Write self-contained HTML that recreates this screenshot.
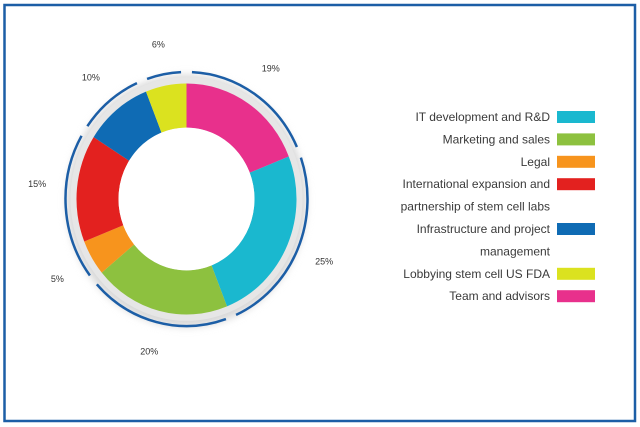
<!DOCTYPE html>
<html><head><meta charset="utf-8"><style>
html,body{margin:0;padding:0;background:#fff;}
svg{display:block;font-family:"Liberation Sans",sans-serif;}
</style></head><body>
<svg id="chart" width="640" height="427" viewBox="0 0 640 427" xmlns="http://www.w3.org/2000/svg">
<defs>
<filter id="sh" x="-30%" y="-30%" width="160%" height="160%"><feGaussianBlur stdDeviation="4"/></filter>
</defs>
<rect x="4.5" y="5" width="630.5" height="416" fill="#fff" stroke="#1c5ea6" stroke-width="2.5"/>
<g id="donut"></g>
<g id="legend"></g>
</svg>
<script>
const categories = ["Team and advisors","IT development and R&D","Marketing and sales","Legal","International expansion and partnership of stem cell labs","Infrastructure and project management","Lobbying stem cell US FDA"];
const values = [19,25,20,5,15,10,6];
const valueLabels = ["19%","25%","20%","5%","15%","10%","6%"];
const colors = ["#e8308c","#1ab8cf","#8dc13f","#f7941d","#e3211f","#0f6bb4","#dbe21f"];
const legendLines = [["IT development and R&D"],["Marketing and sales"],["Legal"],["International expansion and","partnership of stem cell labs"],["Infrastructure and project","management"],["Lobbying stem cell US FDA"],["Team and advisors"]];
const legendColors = ["#1ab8cf","#8dc13f","#f7941d","#e3211f","#0f6bb4","#dbe21f","#e8308c"];

const NS="http://www.w3.org/2000/svg";
const cx=186.5, cy=199, sy=1.05;
const R=110, r=68, arcR=121, labR=150;
const total=values.reduce((a,b)=>a+b,0);
function ang(v){return v/total*2*Math.PI;}
function pt(a,rad){return [cx+rad*Math.sin(a), cy-rad*sy*Math.cos(a)];}
function mk(tag,attrs,parent){const e=document.createElementNS(NS,tag);for(const k in attrs)e.setAttribute(k,attrs[k]);parent.appendChild(e);return e;}
const g=document.getElementById('donut');
// shadow ring
const shadow=mk('ellipse',{cx:cx,cy:cy+2,rx:R+10,ry:(R+10)*sy,fill:'#d8d8d8',filter:'url(#sh)'},g);


const ring=mk('ellipse',{cx:cx,cy:cy,rx:R+6,ry:(R+6)*sy,fill:'#e6e6e6'},g);


let acc=0;
const bounds=[];
values.forEach((v,i)=>{
  const a0=ang(acc), a1=ang(acc+v); acc+=v; bounds.push(a0);
  const p0=pt(a0,R),p1=pt(a1,R),q1=pt(a1,r),q0=pt(a0,r);
  const lg=(a1-a0)>Math.PI?1:0;
  const d=`M${p0[0]},${p0[1]} A${R},${R*sy} 0 ${lg} 1 ${p1[0]},${p1[1]} L${q1[0]},${q1[1]} A${r},${r*sy} 0 ${lg} 0 ${q0[0]},${q0[1]} Z`;
  const s=mk('path',{d:d,fill:colors[i]},g);
  
  
  const am=(a0+a1)/2, lp=pt(am,labR);
  const t=mk('text',{x:lp[0],y:lp[1]+3,'text-anchor':'middle','font-size':'9','fill':'#333'},g);
  t.textContent=valueLabels[i];
  
  
});
// inner hole with soft shadow
const hole=mk('ellipse',{cx:cx,cy:cy,rx:r,ry:r*sy,fill:'#fff'},g);


// dashed blue arcs with gaps at boundaries (except the Legal/International one)
const gapB=bounds.filter((b,i)=>i!==4);
const gap=0.045;
for(let i=0;i<gapB.length;i++){
  let a0=gapB[i]+gap, a1=(i+1<gapB.length?gapB[i+1]:2*Math.PI)-gap;
  const p0=pt(a0,arcR),p1=pt(a1,arcR);
  const lg=(a1-a0)>Math.PI?1:0;
  const a=mk('path',{d:`M${p0[0]},${p0[1]} A${arcR},${arcR*sy} 0 ${lg} 1 ${p1[0]},${p1[1]}`,fill:'none',stroke:'#1c5ea6','stroke-width':'2.5'},g);
  
  
}
// legend
const L=document.getElementById('legend');
let y=117;
legendLines.forEach((lines,i)=>{
  const sw=mk('rect',{x:557,y:y-6,width:38,height:12,fill:legendColors[i]},L);
  
  
  lines.forEach(line=>{
    const t=mk('text',{x:550,y:y+4,'text-anchor':'end','font-size':'12','fill':'#3a3a3a'},L);
    t.textContent=line;
    
    
    y+=22.4;
  });
});
</script>
</body></html>
